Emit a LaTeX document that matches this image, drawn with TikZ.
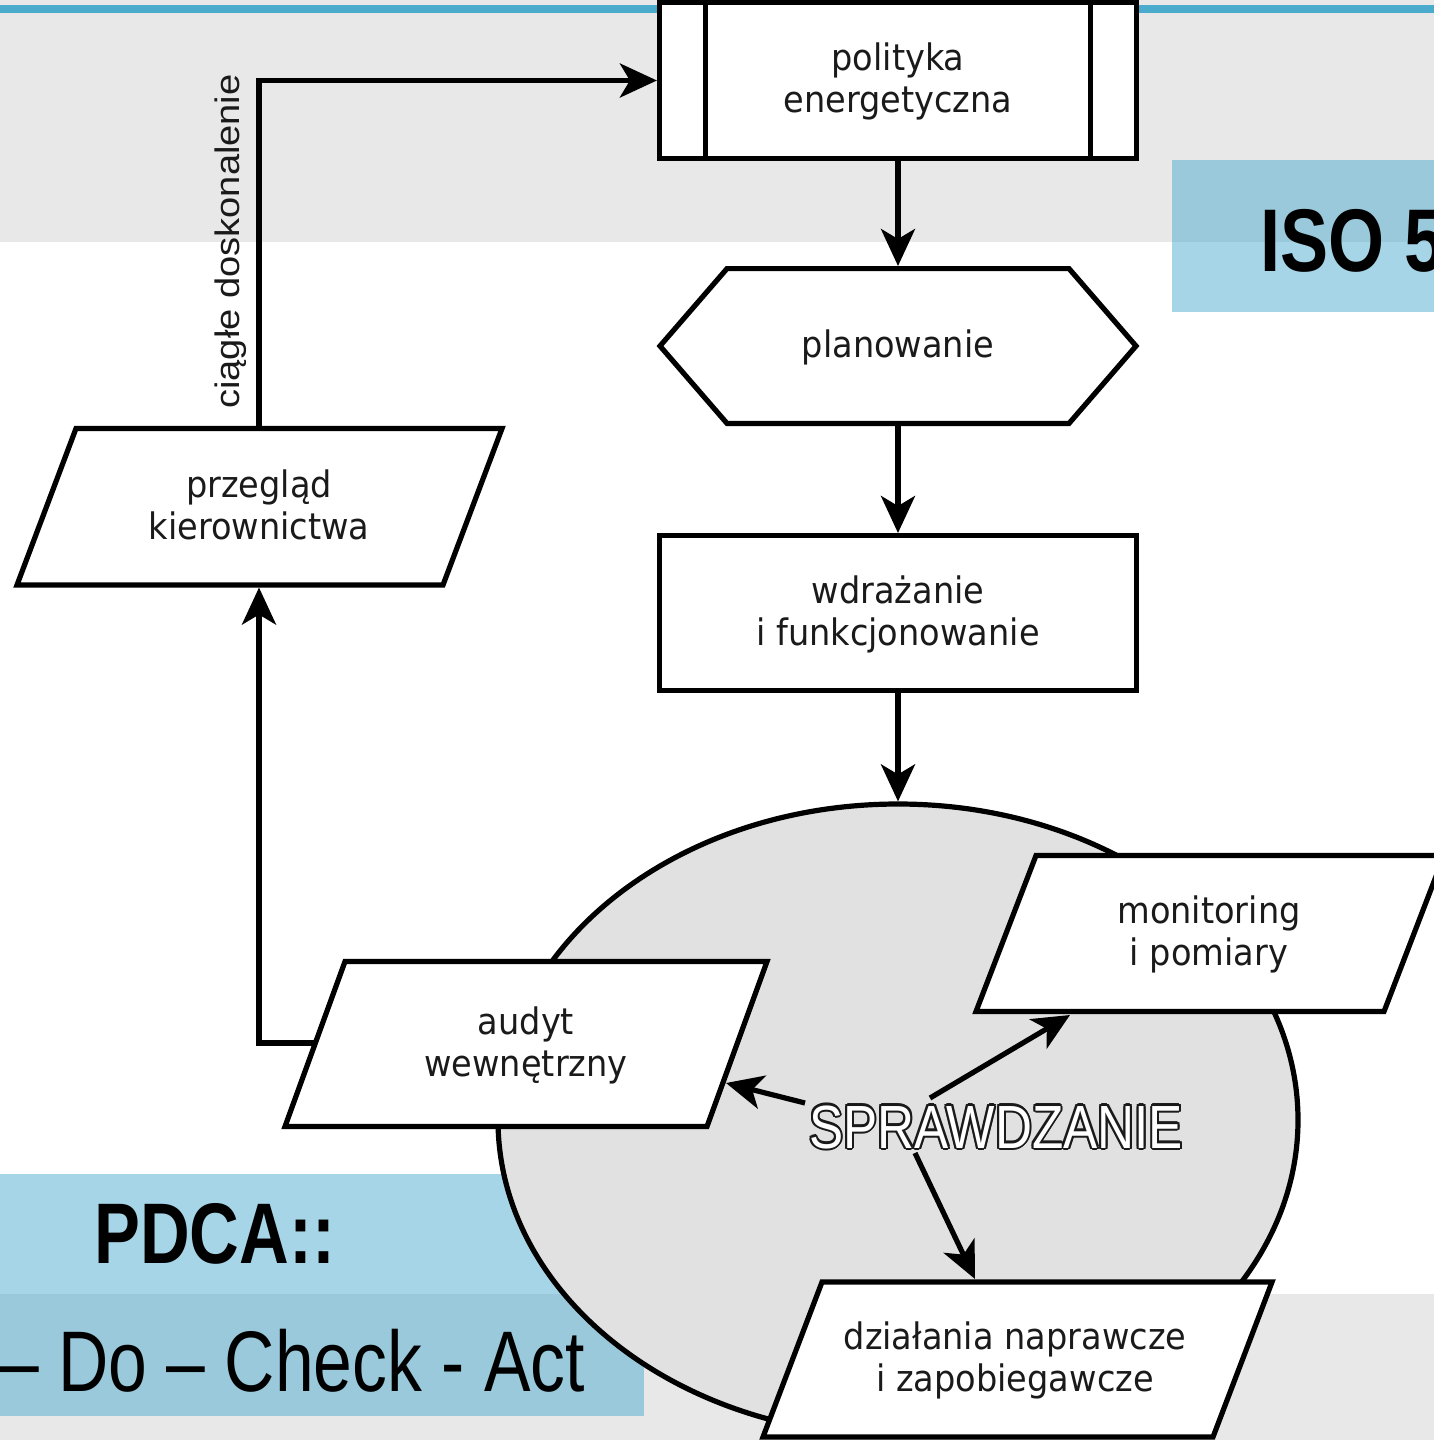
\documentclass[tikz,border=0pt]{standalone}
\usepackage{fontspec}
\setmainfont{DejaVu Sans}[FakeStretch=0.92]
\newfontfamily\arialf{Liberation Sans}
\usetikzlibrary{arrows.meta,shapes.geometric,calc}
\definecolor{bandgray}{HTML}{E8E8E8}
\definecolor{ellgray}{HTML}{E1E1E1}
\definecolor{isoblue}{HTML}{4BABCD}
\definecolor{txtgray}{HTML}{1A1A1A}
\definecolor{olcol}{HTML}{1A1A1A}
\newcommand\olcopy[3]{\rlap{\hspace*{#1}\raisebox{#2}{\textcolor{olcol}{#3}}}}
\newcommand\outlinedtext[1]{%
\olcopy{2.4pt}{0pt}{#1}\olcopy{2.08pt}{1.05pt}{#1}\olcopy{1.2pt}{1.82pt}{#1}%
\olcopy{0pt}{2.1pt}{#1}\olcopy{-1.2pt}{1.82pt}{#1}\olcopy{-2.08pt}{1.05pt}{#1}%
\olcopy{-2.4pt}{0pt}{#1}\olcopy{-2.08pt}{-1.05pt}{#1}\olcopy{-1.2pt}{-1.82pt}{#1}%
\olcopy{0pt}{-2.1pt}{#1}\olcopy{1.2pt}{-1.82pt}{#1}\olcopy{2.08pt}{-1.05pt}{#1}%
\textcolor{white}{#1}}
\newcommand\mystrut{\rule[-9.6pt]{0pt}{42pt}}
\newcommand\twoln[2]{\mystrut #1\\\mystrut #2}
\begin{document}
\begin{tikzpicture}[x=1pt,y=-1pt,
  thickln/.style={line width=5.2pt, draw=black, line join=miter},
  shapebox/.style={thickln, fill=white},
  lbl/.style={inner sep=0pt, outer sep=2.6pt, font=\fontsize{36.5}{42}\selectfont, align=center, text=txtgray},
  arr/.style={thickln, -{Stealth[length=37pt,width=34pt,inset=10pt]}},
  bigtxt/.style={anchor=base west, inner sep=0pt, text=black}
]
\useasboundingbox (0,0) rectangle (1434,1440);
\clip (0,0) rectangle (1434,1440);

% background bands
\fill[bandgray] (0,0) rectangle (1434,242);
\fill[isoblue] (0,5) rectangle (1434,13);
\fill[bandgray] (0,1294) rectangle (1434,1440);
\fill[isoblue, fill opacity=0.5] (1172,160) rectangle (1434,312);
\fill[isoblue, fill opacity=0.5] (0,1174) rectangle (644,1416);

% check ellipse
\node[ellipse, thickln, fill=ellgray, minimum width=800, minimum height=632, inner sep=0pt, outer sep=2.6pt] (chk) at (898,1120) {};

% polityka energetyczna
\node[shapebox, lbl, minimum width=477, minimum height=156] (pol) at (898,80.5) {\twoln{polityka}{energetyczna}};
\draw[thickln] ([xshift=48.8pt]pol.north west) -- ([xshift=48.8pt]pol.south west);
\draw[thickln] ([xshift=-48.8pt]pol.north east) -- ([xshift=-48.8pt]pol.south east);

% planowanie
\filldraw[shapebox] (660,346) -- (727,268.6) -- (1069,268.6) -- (1136,346) -- (1069,423.4) -- (727,423.4) -- cycle;
\node[lbl, minimum width=477, minimum height=154.8] (plan) at (898,346) {\mystrut planowanie};

% wdrazanie
\node[shapebox, lbl, minimum width=477, minimum height=154.8] (wdr) at (898,613) {\twoln{wdrażanie}{i funkcjonowanie}};

% przeglad
\filldraw[shapebox] (76,428.5) -- (502,428.5) -- (443,585) -- (17,585) -- cycle;
\node[lbl, minimum width=420, minimum height=156.5] (prz) at (259,506.7) {\twoln{przegląd}{kierownictwa}};

% audyt
\filldraw[shapebox] (345,961.5) -- (767,961.5) -- (707,1126.5) -- (285,1126.5) -- cycle;
\node[lbl, minimum width=420, minimum height=165] (aud) at (526,1044) {\twoln{audyt}{wewnętrzny}};

% monitoring
\filldraw[shapebox] (1036,855.5) -- (1444,855.5) -- (1384,1011.5) -- (976,1011.5) -- cycle;
\node[lbl, minimum width=400, minimum height=156] (mon) at (1209,933.5) {\twoln{monitoring}{i pomiary}};

% dzialania
\filldraw[shapebox] (822,1282) -- (1272,1282) -- (1213,1437) -- (763,1437) -- cycle;
\node[lbl, minimum width=440, minimum height=155] (dzi) at (1015,1359.5) {\twoln{działania naprawcze}{i zapobiegawcze}};

% main flow arrows
\draw[arr] (pol.south) -- (plan.north);
\draw[arr] (plan.south) -- (wdr.north);
\draw[arr] (wdr.south) -- (chk.north);

% feedback loop
\coordinate (audL) at (315.4,1043);
\draw[arr] (audL) -| (prz.south);
\draw[arr] (prz.north) |- (pol.west);
\node[rotate=90, inner sep=0pt, font=\arialf\fontsize{34}{40}\selectfont, text=txtgray] (ciag) at (230.5,241.5) {\scalebox{1.12}[1]{ciągłe doskonalenie}};

% SPRAWDZANIE and its arrows
\node[inner sep=0pt, font=\arialf\fontsize{61}{72}\selectfont] (spr) at (996,1127) {\scalebox{0.84}[1]{\outlinedtext{SPRAWDZANIE}}};
\coordinate (sA) at (805,1103); \coordinate (tA) at (726,1083);
\coordinate (sM) at (930,1098); \coordinate (tM) at (1070,1015);
\coordinate (sD) at (915,1153); \coordinate (tD) at (975,1279);
\draw[arr] (sA) -- (tA);
\draw[arr] (sM) -- (tM);
\draw[arr] (sD) -- (tD);

% headline texts
\node[bigtxt, font=\arialf\bfseries\fontsize{89}{100}\selectfont] (iso) at (1260,271) {\scalebox{0.81}[1]{ISO 5}};
\node[bigtxt, font=\arialf\bfseries\fontsize{86}{100}\selectfont] (pdca) at (94,1263) {\scalebox{0.8}[1]{PDCA::}};
\node[bigtxt, font=\arialf\fontsize{86}{100}\selectfont] (pdcaline) at (0,1391) {\scalebox{0.81}[1]{– Do – Check - Act}};
\end{tikzpicture}
\end{document}
